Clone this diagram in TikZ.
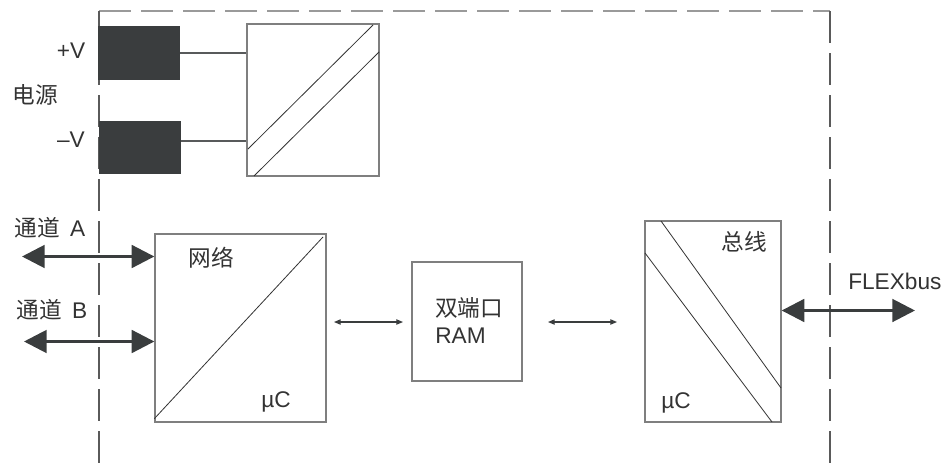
\documentclass[tikz,border=0pt]{standalone}
\usepackage{fontspec}
\setmainfont{Liberation Sans}
\newfontfamily\cjk{Noto Sans CJK SC}
\usetikzlibrary{arrows.meta}
\definecolor{ink}{HTML}{3A3D3E}
\definecolor{boxgray}{HTML}{7F7F7F}
\definecolor{txt}{HTML}{333333}
\definecolor{frametop}{HTML}{9A9A9A}
\definecolor{frameside}{HTML}{5A5A5A}
\begin{document}
\begin{tikzpicture}[x=0.75pt,y=-0.75pt,
  blk/.style={fill=ink, draw=none, inner sep=0pt},
  box/.style={draw=boxgray, line width=1pt, inner sep=0pt, fill=white},
  diag/.style={draw=txt, line width=0.6pt},
  wire/.style={draw=ink!85, line width=1pt},
  lbl/.style={text=txt, font=\fontsize{17}{19}\selectfont, inner sep=0pt},
  bigarrow/.style={draw=ink, line width=2.2pt, arrows={Triangle[length=17pt,width=17pt]-Triangle[length=17pt,width=17pt]}},
  smallarrow/.style={draw=ink, line width=0.8pt, arrows={Triangle[length=5pt,width=4pt]-Triangle[length=5pt,width=4pt]}},
  frameh/.style={draw=frametop, line width=1.6pt, dash pattern=on 24pt off 7.5pt},
  framev/.style={draw=frameside, line width=1.1pt, dash pattern=on 24pt off 7.5pt}
]
\useasboundingbox (0,0) rectangle (943,464);

% dashed frame
\coordinate (ftl) at (99,11);
\coordinate (ftr) at (830,11);
\coordinate (fbl) at (99,464);
\coordinate (fbr) at (830,464);
\draw[frameh] (ftl) -- (ftr);
\draw[framev] (ftl) -- (fbl);
\draw[framev] (ftr) -- (fbr);

% power inputs
\node[blk, minimum width=61.5pt, minimum height=40.5pt] (pv) at (139,53) {};
\node[blk, minimum width=61.5pt, minimum height=39.75pt] (mv) at (140,147.5) {};
\node[lbl] (pvl) at (71,51) {+V};
\node[lbl] (mvl) at (71,140) {–V};
\node[lbl] (psl) at (35,95) {\cjk 电源};

% converter
\node[box, minimum width=99pt, minimum height=114pt] (conv) at (313,100) {};
\draw[diag] (373,25) -- (248,149);
\draw[diag] (379,52) -- (254,176);
\coordinate (pw) at (0,53);
\coordinate (mw) at (0,141);
\draw[wire] (pv.east |- pw) -- (conv.west |- pw);
\draw[wire] (mv.east |- mw) -- (conv.west |- mw);

% network block
\node[box, minimum width=128.25pt, minimum height=141pt] (net) at (240.5,328) {};
\draw[diag] (net.south west) ++(0,-4) -- (323,237);
\node[lbl] (netl) at (211,258) {\cjk 网络};
\node[lbl] (netuc) at (276,402) {µC};

% channel arrows
\node[lbl] (cha) at (50,228) {{\cjk 通道}\, A};
\node[lbl] (chb) at (52,310) {{\cjk 通道}\, B};
\coordinate (aL) at (22,256.5);
\coordinate (bL) at (24,341.5);
\draw[bigarrow] (aL) -- (aL -| net.west);
\draw[bigarrow] (bL) -- (bL -| net.west);

% dual-port RAM
\node[box, minimum width=82.5pt, minimum height=89.25pt] (ram) at (467,321.5) {};
\node[lbl, anchor=west] (raml1) at (435,308) {\cjk 双端口};
\node[lbl, anchor=west] (raml2) at (435,336) {RAM};

% bus block
\node[box, minimum width=102pt, minimum height=150.75pt] (bus) at (713,321.5) {};
\draw[diag] (661,221) -- (781,388);
\draw[diag] (645,253) -- (772,422);
\node[lbl] (busl) at (744,242) {\cjk 总线};
\node[lbl] (busuc) at (676,403) {µC};

% internal links
\coordinate (l1a) at (334,322);
\coordinate (l1b) at (403,322);
\coordinate (l2a) at (548,322);
\coordinate (l2b) at (617,322);
\draw[smallarrow] (l1a) -- (l1b);
\draw[smallarrow] (l2a) -- (l2b);

% FLEXbus
\coordinate (fR) at (915,310.5);
\draw[bigarrow] (bus.east |- fR) -- (fR);
\node[lbl, anchor=west] (flex) at (848,281) {FLEXbus};
\end{tikzpicture}
\end{document}
